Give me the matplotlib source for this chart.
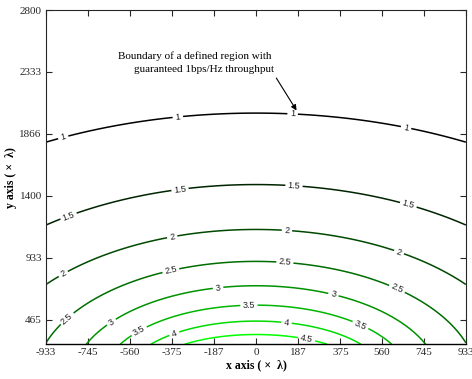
import numpy as np
import matplotlib
matplotlib.use("Agg")
import matplotlib.pyplot as plt
from matplotlib.colors import LinearSegmentedColormap, Normalize

# contour levels (bps/Hz) and axis ticks
levels = [1, 1.5, 2, 2.5, 3, 3.5, 4, 4.5]
x_ticks = [-933, -745, -560, -375, -187, 0, 187, 375, 560, 745, 933]
y_ticks = [465, 933, 1400, 1866, 2333, 2800]
x_range = [-933, 933]
y_range = [280, 2800]

# planar aperture model: half-size of the aperture and SNR gain
aperture_half = 346.0
snr_gain = 8.71

# where MATLAB put the inline labels
label_pos = [(-857, 1843), (-347, 1992), (163, 2014), (667, 1911),
             (-835, 1256), (-338, 1452), (169, 1474), (676, 1324),
             (-857, 812), (-373, 1098), (138, 1143), (635, 970),
             (-831, 458), (-379, 842), (129, 904), (625, 691),
             (-637, 433), (-169, 716), (344, 653),
             (-515, 367), (-31, 578), (462, 415),
             (-364, 367), (136, 445),
             (225, 320)]

note_lines = ["Boundary of a defined region with",
              "guaranteed 1bps/Hz throughput"]

# field: received power from a square aperture, integrated over its surface
x = np.linspace(x_range[0], x_range[1], 301)
y = np.linspace(y_range[0], y_range[1], 301)
X, Y = np.meshgrid(x, y)
u = np.linspace(-aperture_half, aperture_half, 121)
w = np.full(u.size, u[1] - u[0])
w[0] *= 0.5
w[-1] *= 0.5
F = np.zeros_like(X)
for ui, wi in zip(u, w):
    rho = np.sqrt((X - ui) ** 2 + Y ** 2)
    F += wi * (2.0 / rho) * np.arctan(aperture_half / rho)
rate = np.log2(1 + snr_gain * F)

plt.rcParams['font.family'] = ['Liberation Serif', 'DejaVu Serif']

fig = plt.figure(figsize=(4.72, 3.79), dpi=100)
ax = fig.add_axes([0.0975, 0.0916, 0.8895, 0.882])

cmap = LinearSegmentedColormap.from_list("blkgrn", ["#000000", "#00ff00"])
cs = ax.contour(X, Y, rate, levels=levels, cmap=cmap,
                norm=Normalize(vmin=levels[0], vmax=levels[-1]), linewidths=1.1)
lbls = ax.clabel(cs, manual=label_pos, inline=True, inline_spacing=3,
                 fontsize=6.5, colors='#222222', fmt=lambda v: f"{v:g}")
for t in lbls:
    t.set_fontfamily(['Liberation Sans', 'DejaVu Sans'])

ax.set_xlim(x_range)
ax.set_ylim(y_range)
ax.set_xticks(x_ticks)
ax.set_xticklabels([str(v) for v in x_ticks])
ax.set_yticks(y_ticks)
ax.set_yticklabels([str(v) for v in y_ticks])
ax.tick_params(direction='in', top=True, right=True, length=4, width=0.8,
               labelsize=8, pad=3, colors='#262626', labelcolor='#262626')
for s in ax.spines.values():
    s.set_color('#262626')
    s.set_linewidth(0.8)
ax.spines['bottom'].set_color('k')
ax.spines['bottom'].set_linewidth(1.0)

ax.set_xlabel("x axis ( \u00d7  \u03bb)", fontsize=8.5, fontweight='bold', labelpad=1)
ax.set_ylabel("y axis ( \u00d7  \u03bb)", fontsize=8.5, fontweight='bold', labelpad=2)

ax.text(-271, 2453, note_lines[0], fontsize=8, ha='center', va='center')
ax.text(-231, 2348, note_lines[1], fontsize=8, ha='center', va='center')
ax.annotate("", xy=(187, 2025), xytext=(84, 2305),
            arrowprops=dict(arrowstyle='-|>', color='k', lw=0.8, mutation_scale=8))

fig.savefig("out.png", dpi=100)
